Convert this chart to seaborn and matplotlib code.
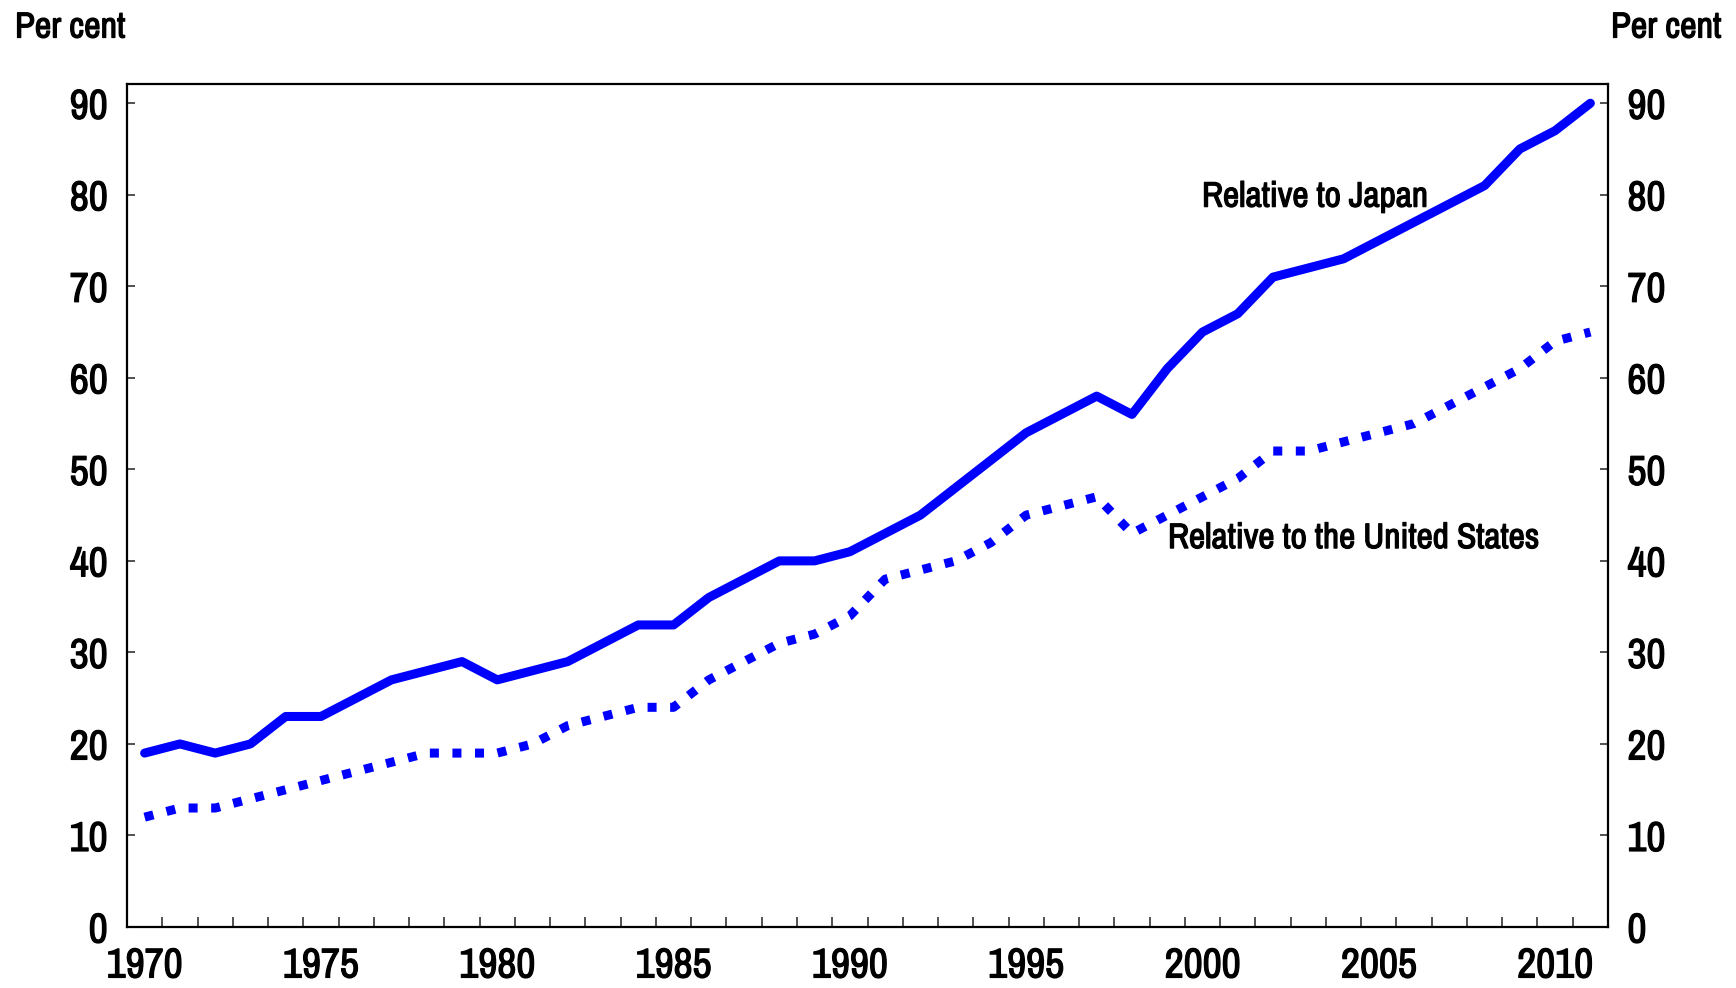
import matplotlib
matplotlib.use("Agg")
import matplotlib.pyplot as plt
import matplotlib.patheffects as pe
import seaborn as sns
import pandas as pd
import numpy as np
from matplotlib.ticker import FixedLocator

years = list(range(1970, 2012))
japan = [19, 20, 19, 20, 23, 23, 25, 27, 28, 29,
         27, 28, 29, 31, 33, 33, 36, 38, 40, 40,
         41, 43, 45, 48, 51, 54, 56, 58, 56, 61,
         65, 67, 71, 72, 73, 75, 77, 79, 81, 85,
         87, 90]
usa = [12, 13, 13, 14, 15, 16, 17, 18, 19, 19,
       19, 20, 22, 23, 24, 24, 27, 29, 31, 32,
       34, 38, 39, 40, 42, 45, 46, 47, 43, 45,
       47, 49, 52, 52, 53, 54, 55, 57, 59, 61,
       64, 65]
series_names = ["Relative to Japan", "Relative to the United States"]
xtick_labels = [1970, 1975, 1980, 1985, 1990, 1995, 2000, 2005, 2010]
ytick_values = [0, 10, 20, 30, 40, 50, 60, 70, 80, 90]

df = pd.DataFrame({
    "year": years * 2,
    "value": japan + usa,
    "series": [series_names[0]] * len(years) + [series_names[1]] * len(years),
})

sns.set_style("white")
plt.rcParams["font.family"] = ["Archivo Narrow", "Liberation Sans", "DejaVu Sans"]
plt.rcParams["text.color"] = "black"
plt.rcParams["xtick.color"] = "black"
plt.rcParams["ytick.color"] = "black"
plt.rcParams["xtick.labelcolor"] = "black"
plt.rcParams["ytick.labelcolor"] = "black"

heavy = [pe.withStroke(linewidth=0.9, foreground="black")]

fig = plt.figure(figsize=(17.36, 9.88), dpi=100)
left, right, top, bottom = 127 / 1736, 1608 / 1736, 1 - 84 / 988, 1 - 927 / 988
ax = fig.add_axes([left, bottom, right - left, top - bottom])

blue = "#0000FF"
sns.lineplot(data=df[df.series == series_names[0]], x="year", y="value",
             color=blue, lw=6.5, ax=ax, legend=False)
sns.lineplot(data=df[df.series == series_names[1]], x="year", y="value",
             color=blue, lw=6.5, ax=ax, legend=False,
             linestyle=(0, (1.0, 1.5)), dash_capstyle="butt")

ax.set_xlim(1969.5, 2011.5)
ax.set_ylim(0, 92.1)
ax.set_xlabel("")
ax.set_ylabel("")

ax.xaxis.set_major_locator(FixedLocator(xtick_labels))
ax.set_xticklabels([str(v) for v in xtick_labels])
ax.xaxis.set_minor_locator(FixedLocator(np.arange(1970.5, 2011.0, 1.0)))
ax.tick_params(axis="x", which="major", length=0, pad=14, labelsize=30)
ax.tick_params(axis="x", which="minor", direction="in", length=7, width=1.2,
               color="#333333", bottom=True)

ax.set_yticks(ytick_values)
ax.tick_params(axis="y", which="major", direction="in", length=6, width=1.2,
               color="#333333", left=True, right=True, labelleft=True,
               labelright=True, labelsize=30, pad=14)

for lab in ax.get_xticklabels() + ax.get_yticklabels() + ax.yaxis.get_ticklabels(which="major"):
    lab.set_path_effects(heavy)
for t in ax.yaxis.get_major_ticks():
    t.label2.set_path_effects(heavy)

for s in ax.spines.values():
    s.set_visible(True)
    s.set_color("black")
    s.set_linewidth(1.6)

ax.text(2003.19, 78.7, series_names[0], fontsize=25.5, ha="center", va="baseline",
        path_effects=heavy)
ax.text(2004.29, 41.4, series_names[1], fontsize=25.5, ha="center", va="baseline",
        path_effects=heavy)

fig.text(15 / 1736, 1 - 27 / 988, "Per cent", fontsize=26, ha="left", va="center",
         path_effects=heavy)
fig.text(1721 / 1736, 1 - 27 / 988, "Per cent", fontsize=26, ha="right", va="center",
         path_effects=heavy)

fig.savefig("out.png", dpi=100)
